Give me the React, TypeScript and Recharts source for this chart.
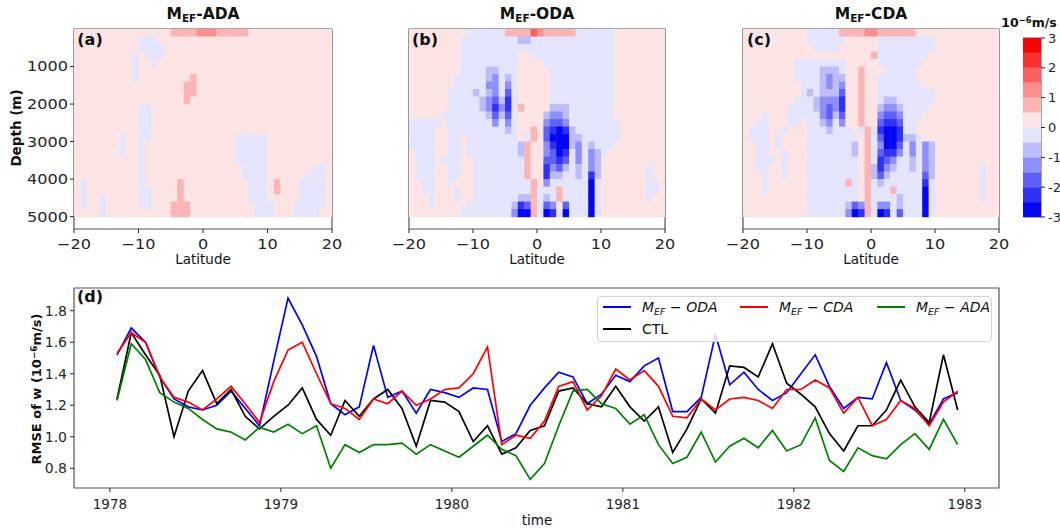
import React from "react";
import {
  BarChart,
  Bar,
  LineChart,
  Line,
  XAxis,
  YAxis,
  ReferenceArea,
  Legend,
} from "recharts";

const FONT = "'DejaVu Sans', 'Liberation Sans', sans-serif";
const INK = "#262626";
const SPINE = "#555";

// ---------- (d) monthly RMSE of w, 1978-01 .. 1982-12, in 1e-6 m/s ----------
const ODA = [1.52, 1.69, 1.6, 1.38, 1.24, 1.19, 1.17, 1.2, 1.29, 1.18, 1.07, 1.48, 1.88, 1.71, 1.51, 1.21, 1.14, 1.19, 1.58, 1.25, 1.29, 1.15, 1.3, 1.28, 1.25, 1.31, 1.3, 0.97, 1.02, 1.2, 1.31, 1.41, 1.38, 1.21, 1.27, 1.39, 1.35, 1.45, 1.5, 1.16, 1.16, 1.25, 1.65, 1.33, 1.41, 1.3, 1.23, 1.28, 1.4, 1.52, 1.32, 1.18, 1.25, 1.24, 1.47, 1.23, 1.17, 1.08, 1.24, 1.28];
const CDA = [1.53, 1.66, 1.6, 1.38, 1.25, 1.22, 1.17, 1.24, 1.32, 1.21, 1.09, 1.35, 1.55, 1.6, 1.4, 1.21, 1.18, 1.11, 1.24, 1.21, 1.29, 1.2, 1.24, 1.3, 1.31, 1.4, 1.57, 0.95, 1.01, 0.99, 1.1, 1.32, 1.35, 1.17, 1.26, 1.43, 1.36, 1.42, 1.32, 1.13, 1.12, 1.24, 1.17, 1.24, 1.25, 1.23, 1.18, 1.3, 1.3, 1.36, 1.31, 1.15, 1.25, 1.07, 1.11, 1.23, 1.18, 1.07, 1.22, 1.29];
const ADA = [1.23, 1.59, 1.49, 1.28, 1.22, 1.18, 1.11, 1.05, 1.03, 0.98, 1.06, 1.03, 1.08, 1.02, 1.07, 0.8, 0.95, 0.9, 0.95, 0.95, 0.96, 0.89, 0.95, 0.91, 0.87, 0.94, 1.01, 0.92, 0.88, 0.73, 0.83, 1.07, 1.29, 1.3, 1.21, 1.18, 1.08, 1.14, 0.95, 0.83, 0.87, 1.03, 0.84, 0.94, 0.99, 0.93, 1.04, 0.91, 0.95, 1.12, 0.85, 0.78, 0.93, 0.88, 0.86, 0.95, 1.02, 0.92, 1.11, 0.95];
const CTL = [1.24, 1.66, 1.52, 1.39, 1.0, 1.29, 1.42, 1.21, 1.3, 1.13, 1.05, 1.13, 1.2, 1.31, 1.11, 1.01, 1.23, 1.13, 1.24, 1.3, 1.18, 0.94, 1.23, 1.22, 1.16, 0.97, 1.07, 0.89, 0.93, 1.04, 1.07, 1.29, 1.31, 1.21, 1.19, 1.32, 1.19, 1.1, 1.19, 0.9, 1.05, 1.24, 1.15, 1.45, 1.44, 1.38, 1.59, 1.34, 1.27, 1.19, 1.02, 0.91, 1.07, 1.07, 1.17, 1.36, 1.19, 1.09, 1.52, 1.17];

const YEAR_TICKS = [1978, 1979, 1980, 1981, 1982, 1983];
const RMSE_TICKS = [0.8, 1.0, 1.2, 1.4, 1.6, 1.8];
const T_DOMAIN: [number, number] = [1977.79, 1983.2];
const RMSE_DOMAIN: [number, number] = [0.675, 1.944];

// plot order = legend order (matplotlib fills columns first)
const SERIES = [
  { key: "oda", label: "ODA", color: "#0000ff", values: ODA, slot: [0, 0] },
  { key: "ctl", label: "CTL", color: "#000000", values: CTL, slot: [0, 1] },
  { key: "cda", label: "CDA", color: "#ff0000", values: CDA, slot: [1, 0] },
  { key: "ada", label: "ADA", color: "#008000", values: ADA, slot: [2, 0] },
];

// ---------- (a)-(c) w difference, 1 deg x 200 m cells ----------
// '.' 0..0.5  '1'..'5' = 0.5..3 ;  ',' -0.5..0  'a'..'e' = -0.5..-3
const LEVEL_COLORS: Record<string, string> = {
  ".": "#fde4e4",
  "1": "#fcb4b4",
  "2": "#fc8e8e",
  "3": "#fb5f5f",
  "4": "#f93030",
  "5": "#f50505",
  ",": "#e4e5fc",
  a: "#bcbdfa",
  b: "#8e8ffa",
  c: "#5f60f8",
  d: "#3031f6",
  e: "#0506f2",
};

const GRID_ADA = [
  "..........|.....11112|2211111...|..........",
  "..........|,,,.......|..........|..........",
  "..........|,,,,......|..........|..........",
  ".........,|.,,,......|..........|..........",
  ".........,|..,.......|..........|..........",
  ".........,|..........|..........|..........",
  ".........,|........1.|..........|..........",
  "..........|.......11.|..........|..........",
  "..........|.......11.|..........|..........",
  "..........|.......1..|..........|..........",
  "..........|,,........|..........|..........",
  "..........|,,........|..........|..........",
  "..........|,,........|..........|..........",
  "..........|,,........|..........|..........",
  ".......,..|,,........|.....,,,,,|..........",
  ".......,..|,.........|.....,,,,,|..........",
  ".......,..|,.........|.....,,,,,|..........",
  "..........|,.........|.....,,,,,|..........",
  "..........|,.........|......,,,,|.......,,.",
  "..........|,.........|......,,,,|......,,,.",
  ".,........|,.....1...|.......,,,|.1...,,,,.",
  ".,........|,,....1...|.......,,,|.1...,,,,.",
  ".,..,.....|,,....1...|.......,,,|.....,,,,.",
  ".,..,.....|,,...111..|........,,|,...,,,,,.",
  "....,.....|.....111..|........,,|,...,,,,..",
];

const GRID_ODA = [
  ".........,|,,,,,11113|211111,,,,|,,........",
  "........,,|,,,,,,,aa,|,,,,,,,,,,|,,........",
  "........,,|,,,,,,,,,,|,,,,,,,,,,|,,........",
  "........,,|,,,,,,,..,|,,,,,,,,,,|,,........",
  "........,,|,,,,,,,...|.,,,,,,,,,|,,........",
  "........,,|,,aa,,,...|..,,,,,,,,|,,........",
  ".......,,,|,,ab,a,...|..,,,,,,,,|,,........",
  ".......,,,|,,bb,b,...|..,,,,,,,,|,,........",
  "......,,,,|a,ab,c,...|..,,,,,,,,|,,........",
  "......,,,,|,abcad,...|..,,,,,,,,|,,........",
  "......,,,,|,abdbd,1..|..aaa,,,,,|,,........",
  ".....,,,,,|,,acac,...|.abba,,,,,|,,........",
  ",,,,,.,,,,|,,,b,b,...|.bccb,,,,,|,,,.......",
  ",,,,..,,,,|,,,,,a,..1|.cdeda,,,,|,,,.......",
  ",,,,..,,.,|,,,,,,,.,1|.ceeeaa,,,|,,,.......",
  ",,,,..,,.,|,,,,,,,a1.|.bdeeab,a,|,,........",
  ".,,,..,,.,|,,,,,,,a1.|.bced,b,ba|,.........",
  ".,,,.,,,..|,,,,,,,,1.|.ccdc,b,ba|..........",
  ".,,,..,,..|,,,,,,,,1.|.dbca,a,ba|.......,..",
  ".,,,..,,..|,,,,,,,,1.|.daa,,a,da|.......,..",
  "..,,..,...|,,,,,,,,,1|.b,,,,,,e,|.......,,.",
  "..,,...,..|,,,,,,,,,1|,,,1,,,,e,|.......,,.",
  "...,...,..|,,,,,,,aa1|,a,1,,,,e,|.......,..",
  "...,.....,|,,,,,,adc1|,cb.c,,,e,|..........",
  "........,,|,,,,,,bee1|,ed,e,,,e,|..........",
];

const GRID_CDA = [
  "..........|,,,,,11112|2111111...|..........",
  "..........|,,,,,,....|.,,,,,,,,,|..........",
  "..........|.,,,,.....|.,,,,,,,,,|..........",
  "..........|..........|1,,,,,,,,.|..........",
  "........,,|,,,,,,....|.,,,,,,,..|..........",
  "........,,|,,aaa,..1.|..,,,,,...|..........",
  "........,,|,,abaa..1.|.,,,,,,...|..........",
  ".........,|,,abab..1.|.,,,,,,,..|..........",
  ".........,|a,aaac..1.|.,,,,,,,,,|..........",
  "........,,|,abbbd..1.|.,aa,,,,,,|..........",
  ".......,,,|,abcbd..1.|.abba,,,,.|..........",
  "...,...,,,|,,bcac..1.|.bccb,,,..|..........",
  "..,,...,,.|,,ab,b..1.|.cddc,,...|..........",
  ".,,,..,...|,,,a,,,.,1|,deed,,...|..........",
  ".,,,.,....|,,,,,,,,.1|,ceedaa,..|..........",
  "..,,.,....|,,,,,,,a.1|,beec,b,ba|..........",
  "..,,..,...|,,,,,,,a.1|,cddb,b,ba|..........",
  "..,,,.,...|,,,,,,,,.1|,dcb,,a,ba|..........",
  "..,,..,...|,,,,,,,,.1|adba,,a,ba|.......,..",
  "...,..,...|,,,,,,,,.1|aca,,,,,ca|.......,..",
  "...,......|,,,,,,1,.1|,a,,,,,,d,|.......,..",
  "...,......|,,,,,,,,.1|,,,1,,,,e,|.......,..",
  "..........|,,,,,,,,.1|,,,,a,,,e,|.......,..",
  "..........|,,,,,,acb1|,bb,a,,,e,|..........",
  "..........|,,,,,,bed1|,ed,c,,,e,|..........",
];

const LATS = Array.from({ length: 40 }, (_, i) => -19.5 + i);
const LAT_TICKS = [-20, -10, 0, 10, 20];
const DEPTH_TICKS = [1000, 2000, 3000, 4000, 5000];
const LAYER = 200; // m per grid row
const DEPTH_MAX = 5330;

const CBAR_NEG = [",", "a", "b", "c", "d", "e"];
const CBAR_POS = [".", "1", "2", "3", "4", "5"];
const CBAR_STEP = 0.5;
const CBAR_TICKS = [-3, -2, -1, 0, 1, 2, 3];

const minus = (v: number) => (v < 0 ? `\u2212${-v}` : `${v}`);

const sub = { fontSize: "0.68em", position: "relative" as const, top: "0.28em" };
const sup = { fontSize: "0.68em", position: "relative" as const, top: "-0.5em" };

// the top row's tick labels are drawn a bit wider than tall in the source figure
const stretchTick = (kind: "x" | "y", fmt: (v: number) => string) => (p: any) => (
  <g transform={`translate(${p.x},${p.y})`}>
    <text
      transform="scale(1.15,1)"
      textAnchor={kind === "x" ? "middle" : "end"}
      dy={kind === "x" ? "0.71em" : "0.355em"}
      fontSize={14}
      fontFamily={FONT}
      fill={INK}
    >
      {fmt(p.payload.value)}
    </text>
  </g>
);

function Txt({ x, y, children, size = 13, bold = false, rotate = false }: any) {
  return (
    <div
      style={{
        position: "absolute",
        left: x,
        top: y,
        transform: `translate(-50%, -50%)${rotate ? " rotate(-90deg)" : ""}`,
        whiteSpace: "nowrap",
        fontFamily: FONT,
        fontSize: size,
        fontWeight: bold ? "bold" : "normal",
        color: "#111",
        lineHeight: 1,
      }}
    >
      {children}
    </div>
  );
}

function CellRect(props: any) {
  const { x, y, width, height, fill } = props;
  if (x == null || y == null || width == null || height == null) return null;
  const top = Math.min(y, y + height);
  return <rect x={x} y={top} width={Math.abs(width) + 0.9} height={Math.abs(height) + 0.6} fill={fill} />;
}

function Panel({ grid, plotLeft, plotWidth, showDepth }: any) {
  const axisW = 74;
  const rowsOf = grid.map((r: string) => r.split("|").join(""));
  const data = LATS.map((lat, col) => {
    const o: any = { lat, col };
    rowsOf.forEach((_: string, r: number) => {
      o[`r${r}`] = LAYER;
    });
    return o;
  });
  return (
    <div style={{ position: "absolute", left: plotLeft - axisW, top: 0 }}>
      <BarChart
        width={axisW + plotWidth + 10}
        height={280}
        data={data}
        margin={{ top: 29, right: 10, bottom: 0, left: 0 }}
        barCategoryGap={0}
        barGap={0}
      >
        <XAxis
          dataKey="lat"
          type="number"
          domain={[-20, 20]}
          allowDataOverflow
          ticks={LAT_TICKS}
          height={51}
          axisLine={false}
          tickSize={4}
          tickMargin={6}
          tickLine={{ stroke: INK }}
          tick={stretchTick("x", minus)}
        />
        <YAxis
          type="number"
          domain={[0, DEPTH_MAX]}
          reversed
          allowDataOverflow
          ticks={DEPTH_TICKS}
          width={axisW}
          axisLine={false}
          tickSize={4}
          tickMargin={2}
          tickLine={showDepth ? { stroke: INK } : false}
          tick={showDepth ? stretchTick("y", String) : false}
        />
        {rowsOf.map((row: string, r: number) => (
          <Bar
            key={r}
            dataKey={`r${r}`}
            stackId="w"
            isAnimationActive={false}
            shape={(p: any) => {
              const c = p.payload?.col ?? p.index;
              return <CellRect {...p} fill={LEVEL_COLORS[row[c]] ?? LEVEL_COLORS["."]} />;
            }}
          />
        ))}
        <ReferenceArea
          x1={-20}
          x2={20}
          y1={0}
          y2={DEPTH_MAX}
          fill="none"
          stroke={SPINE}
          strokeWidth={1.2}
          ifOverflow="visible"
        />
      </BarChart>
    </div>
  );
}

function ColorBar() {
  const row: any = {};
  CBAR_NEG.forEach((_, i) => (row[`n${i}`] = -CBAR_STEP));
  CBAR_POS.forEach((_, i) => (row[`p${i}`] = CBAR_STEP));
  return (
    <div style={{ position: "absolute", left: 1023, top: 0 }}>
      <BarChart
        width={50}
        height={230}
        data={[row]}
        stackOffset="sign"
        barCategoryGap={0}
        margin={{ top: 38, right: 0, bottom: 13, left: 0 }}
      >
        <XAxis type="category" hide />
        <YAxis
          type="number"
          orientation="right"
          domain={[-3, 3]}
          ticks={CBAR_TICKS}
          width={32}
          axisLine={false}
          tickSize={4}
          tickMargin={3}
          tickLine={{ stroke: INK }}
          tick={{ fontSize: 13, fill: INK, fontFamily: FONT }}
        />
        {CBAR_NEG.map((c, i) => (
          <Bar key={`n${i}`} dataKey={`n${i}`} stackId="cb" fill={LEVEL_COLORS[c]} isAnimationActive={false} />
        ))}
        {CBAR_POS.map((c, i) => (
          <Bar key={`p${i}`} dataKey={`p${i}`} stackId="cb" fill={LEVEL_COLORS[c]} isAnimationActive={false} />
        ))}
        <ReferenceArea y1={-3} y2={3} fill="none" stroke={SPINE} strokeWidth={1} ifOverflow="visible" />
      </BarChart>
    </div>
  );
}

function LegendBox() {
  return (
    <div
      style={{
        position: "relative",
        width: 393,
        height: 44,
        border: "1px solid #d4d4d4",
        borderRadius: 4,
        background: "rgba(255,255,255,0.85)",
        fontFamily: FONT,
        fontSize: 14,
        color: "#111",
      }}
    >
      {SERIES.map((s) => {
        const left = 5 + s.slot[0] * 137;
        const top = 10 + s.slot[1] * 21.5;
        return (
          <div key={s.key} style={{ position: "absolute", left, top: top - 8, height: 16, display: "flex", alignItems: "center" }}>
            <div style={{ width: 28, height: 2, background: s.color }} />
            <span style={{ marginLeft: 11, fontStyle: s.key === "ctl" ? "normal" : "italic", whiteSpace: "nowrap" }}>
              {s.key === "ctl" ? (
                s.label
              ) : (
                <>
                  M<span style={sub}>EF</span> {"\u2212"} {s.label}
                </>
              )}
            </span>
          </div>
        );
      })}
    </div>
  );
}

function RmseChart() {
  const rows = ODA.map((_, i) => {
    const o: any = { t: 1978 + (i + 0.5) / 12 };
    SERIES.forEach((s) => (o[s.key] = s.values[i]));
    return o;
  });
  return (
    <div style={{ position: "absolute", left: 0, top: 280 }}>
      <LineChart width={1060} height={249} data={rows} margin={{ top: 8, right: 61, bottom: 0, left: 0 }}>
        <XAxis
          dataKey="t"
          type="number"
          domain={T_DOMAIN}
          allowDataOverflow
          ticks={YEAR_TICKS}
          height={41}
          axisLine={false}
          tickSize={4}
          tickMargin={7}
          tickLine={{ stroke: INK }}
          tick={{ fontSize: 13.5, fill: INK, fontFamily: FONT }}
        />
        <YAxis
          type="number"
          domain={RMSE_DOMAIN}
          allowDataOverflow
          ticks={RMSE_TICKS}
          tickFormatter={(v: number) => v.toFixed(1)}
          width={74}
          axisLine={false}
          tickSize={4}
          tickMargin={3}
          tickLine={{ stroke: INK }}
          tick={{ fontSize: 14, fill: INK, fontFamily: FONT }}
        />
        <ReferenceArea
          x1={T_DOMAIN[0]}
          x2={T_DOMAIN[1]}
          y1={RMSE_DOMAIN[0]}
          y2={RMSE_DOMAIN[1]}
          fill="none"
          stroke={SPINE}
          strokeWidth={1.2}
          ifOverflow="visible"
        />
        {SERIES.map((s) => (
          <Line
            key={s.key}
            dataKey={s.key}
            stroke={s.color}
            strokeWidth={1.7}
            dot={false}
            isAnimationActive={false}
          />
        ))}
        <Legend
          layout="horizontal"
          verticalAlign="middle"
          align="center"
          content={() => <LegendBox />}
          wrapperStyle={{ left: 597, top: 16, width: 395, height: 46 }}
        />
      </LineChart>
    </div>
  );
}

const PANELS = [
  { grid: GRID_ADA, name: "ADA", tag: "(a)", left: 74, width: 258 },
  { grid: GRID_ODA, name: "ODA", tag: "(b)", left: 409, width: 256 },
  { grid: GRID_CDA, name: "CDA", tag: "(c)", left: 743, width: 256 },
];

export default function App() {
  return (
    <div
      style={{
        position: "absolute",
        left: 0,
        top: 0,
        width: 1060,
        height: 529,
        overflow: "hidden",
        background: "#fff",
      }}
    >
      {PANELS.map((p, i) => (
        <React.Fragment key={p.name}>
          <Panel grid={p.grid} plotLeft={p.left} plotWidth={p.width} showDepth={i === 0} />
          <Txt x={p.left + p.width / 2} y={15} size={15.5} bold>
            M<span style={sub}>EF</span>-{p.name}
          </Txt>
          <Txt x={p.left + 16} y={40} size={16} bold>
            {p.tag}
          </Txt>
          <Txt x={p.left + p.width / 2} y={260} size={13.5}>
            Latitude
          </Txt>
        </React.Fragment>
      ))}
      <Txt x={17} y={128} size={13.5} bold rotate>
        Depth (m)
      </Txt>
      <ColorBar />
      <Txt x={1029} y={23} size={12.5} bold>
        10<span style={sup}>{"\u2212"}6</span>m/s
      </Txt>

      <RmseChart />
      <Txt x={90} y={297} size={16} bold>
        (d)
      </Txt>
      <Txt x={36} y={389} size={13} bold rotate>
        RMSE of w (10<span style={sup}>{"\u2212"}6</span>m/s)
      </Txt>
      <Txt x={537} y={521} size={13.5}>
        time
      </Txt>
    </div>
  );
}
